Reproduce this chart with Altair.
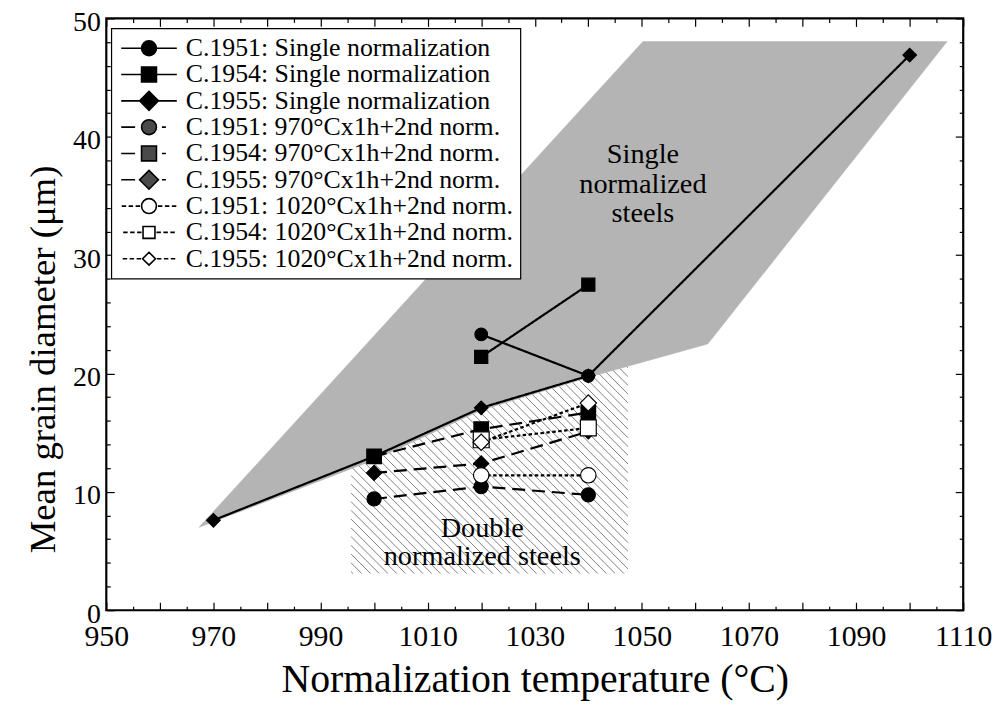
import altair as alt
import numpy as np
import pandas as pd

# ---------------- data ----------------
SERIES = [
    "C.1951: Single normalization",
    "C.1954: Single normalization",
    "C.1955: Single normalization",
    "C.1951: 970°Cx1h+2nd norm.",
    "C.1954: 970°Cx1h+2nd norm.",
    "C.1955: 970°Cx1h+2nd norm.",
    "C.1951: 1020°Cx1h+2nd norm.",
    "C.1954: 1020°Cx1h+2nd norm.",
    "C.1955: 1020°Cx1h+2nd norm.",
]

c1951_single_temp = [1020, 1040]
c1951_single_diam = [23.3, 19.8]
c1954_single_temp = [1020, 1040]
c1954_single_diam = [21.4, 27.5]
c1955_single_temp = [970, 1000, 1020, 1040, 1100]
c1955_single_diam = [7.6, 13.0, 17.1, 19.8, 46.9]
c1951_970_temp = [1000, 1020, 1040]
c1951_970_diam = [9.4, 10.45, 9.75]
c1954_970_temp = [1000, 1020, 1040]
c1954_970_diam = [13.0, 15.3, 16.7]
c1955_970_temp = [1000, 1020, 1040]
c1955_970_diam = [11.6, 12.4, 15.1]
c1951_1020_temp = [1020, 1040]
c1951_1020_diam = [11.4, 11.4]
c1954_1020_temp = [1020, 1040]
c1954_1020_diam = [14.4, 15.4]
c1955_1020_temp = [1020, 1040]
c1955_1020_diam = [14.2, 17.5]

# shaded band of single-normalized steels (polygon vertices)
single_band_temp = [967.3, 1000, 1020, 1041, 1062.3, 1107, 1050.2, 967.3]
single_band_diam = [7.0, 12.7, 16.9, 19.8, 22.5, 48.05, 48.05, 7.0]
# hatched box of double-normalized steels (x range, y range)
double_box_temp = [995.7, 1047.4]
double_box_diam = [3.1, 20.8]

X_LABELS = [950, 970, 990, 1010, 1030, 1050, 1070, 1090, 1110]
Y_LABELS = [0, 10, 20, 30, 40, 50]
X_MAJOR = list(range(950, 1111, 10))
X_MINOR = list(range(955, 1110, 10))
Y_MAJOR = list(range(0, 51, 10))
Y_MINOR = [v for v in range(0, 51, 2) if v % 10 != 0]

# ---------------- layout / style ----------------
W, H = 863, 596
XMIN, XMAX, YMIN, YMAX = 950, 1110, 0, 50
FONT = "Liberation Serif"

series_temps = [c1951_single_temp, c1954_single_temp, c1955_single_temp,
                c1951_970_temp, c1954_970_temp, c1955_970_temp,
                c1951_1020_temp, c1954_1020_temp, c1955_1020_temp]
series_diams = [c1951_single_diam, c1954_single_diam, c1955_single_diam,
                c1951_970_diam, c1954_970_diam, c1955_970_diam,
                c1951_1020_diam, c1954_1020_diam, c1955_1020_diam]

rows = []
for k, (name, ts, ds) in enumerate(zip(SERIES, series_temps, series_diams)):
    for t, d in zip(ts, ds):
        rows.append({"series": name, "temp": t, "diam": d, "z": k})
pts = pd.DataFrame(rows)

band = pd.DataFrame({"temp": single_band_temp, "diam": single_band_diam,
                     "i": list(range(len(single_band_temp)))})

# hatch texture for the double-normalized box (45 degree lines)
kx = W / (XMAX - XMIN)
ky = H / (YMAX - YMIN)
u0, u1 = (double_box_temp[0] - XMIN) * kx, (double_box_temp[1] - XMIN) * kx
v0, v1 = (double_box_diam[0] - YMIN) * ky, (double_box_diam[1] - YMIN) * ky
spacing = 8.8
hatch = []
for c in np.arange(u0 + v0 + 2, u1 + v1, spacing):
    lo = max(u0, c - v1)
    hi = min(u1, c - v0)
    if hi > lo:
        hatch.append({"x": XMIN + lo / kx, "y": (c - lo) / ky,
                      "x2": XMIN + hi / kx, "y2": (c - hi) / ky})
hatch = pd.DataFrame(hatch)

xs = alt.Scale(domain=[XMIN, XMAX], nice=False, zero=False)
ys = alt.Scale(domain=[YMIN, YMAX], nice=False, zero=False)

SHAPES = ["circle", "square", "diamond"] * 3
FILLS = ["black"] * 6 + ["white"] * 3
LEG_FILLS = ["black"] * 3 + ["#4a4a4a"] * 3 + ["white"] * 3
SIZES = [160, 270, 324, 230, 270, 290, 230, 160, 190]
DASHES = [[1, 0]] * 3 + [[13, 7]] * 3 + [[3.5, 2.5]] * 3

# legend symbols: line + marker drawn as one custom path
LEG_SYM = 484                      # symbol "size" -> scale factor sqrt/2 = 11 px / unit
SU = (LEG_SYM ** 0.5) / 2
HALF = 28.0                        # half width of the legend line, px


def segs(a, b, on=None, off=None):
    if on is None:
        return [(a, b)]
    out, p = [], a
    while p < b:
        out.append((p, min(p + on, b)))
        p += on + off
    return out


def seg_path(sg):
    return "".join(f"M{a / SU:.3f},0L{b / SU:.3f},0" for a, b in sg)


def marker(kind, r):
    r = r / SU
    if kind == "circle":
        return (f"M{-r:.3f},0A{r:.3f},{r:.3f},0,1,0,{r:.3f},0"
                f"A{r:.3f},{r:.3f},0,1,0,{-r:.3f},0Z")
    if kind == "square":
        return f"M{-r:.3f},{-r:.3f}L{r:.3f},{-r:.3f}L{r:.3f},{r:.3f}L{-r:.3f},{r:.3f}Z"
    return f"M{-r:.3f},0L0,{-r:.3f}L{r:.3f},0L0,{r:.3f}Z"


LEG_R = [7.5, 7.5, 9.5, 7.5, 7.5, 9.5, 7.5, 6.0, 6.5]
legend_paths = []
for k, (kind, r) in enumerate(zip(SHAPES, LEG_R)):
    if k < 3:
        lines = segs(-HALF, -r) + segs(r, HALF)
    elif k < 6:
        lines = segs(-HALF, -14) + segs(13, 17)
    else:
        right = segs(r + 1.5, HALF, 4.5, 2.5)
        lines = [(-b, -a) for a, b in right] + right
    legend_paths.append(seg_path(lines) + marker(kind, r))

leg = alt.Legend(title=None, orient="none", legendX=5, legendY=10,
                 symbolSize=LEG_SYM, symbolStrokeWidth=1.6,
                 symbolStrokeColor="black", symbolFillColor="white",
                 symbolOpacity=1, symbolOffset=18, labelFont=FONT,
                 labelFontSize=26, labelColor="black", labelOffset=24,
                 labelLimit=600, rowPadding=0.5, padding=7,
                 strokeColor="black", fillColor="white", cornerRadius=0,
                 zindex=1)

# ---------------- layers ----------------
hatch_layer = alt.Chart(hatch).mark_rule(color="#7f7f7f", strokeWidth=1.0).encode(
    x=alt.X("x:Q", scale=xs, axis=None), y=alt.Y("y:Q", scale=ys, axis=None),
    x2="x2:Q", y2="y2:Q")

band_layer = alt.Chart(band).mark_line(
    fill="#b4b4b4", stroke="#b4b4b4", strokeWidth=0.5, interpolate="linear"
).encode(x=alt.X("temp:Q", scale=xs, axis=None),
         y=alt.Y("diam:Q", scale=ys, axis=None),
         order=alt.Order("i:Q"))

# text anchored at its first line
single_text = alt.Chart(pd.DataFrame({"temp": [1050.2], "diam": [38.5]})).mark_text(
    text=["Single", "normalized", "steels"], font=FONT, fontSize=28.5, lineHeight=29.5,
    align="center", baseline="middle", color="black"
).encode(x=alt.X("temp:Q", scale=xs, axis=None), y=alt.Y("diam:Q", scale=ys, axis=None))

double_text = alt.Chart(pd.DataFrame({"temp": [1020.2], "diam": [6.9]})).mark_text(
    text=["Double", "normalized steels"], font=FONT, fontSize=28.5, lineHeight=28,
    align="center", baseline="middle", color="black"
).encode(x=alt.X("temp:Q", scale=xs, axis=None), y=alt.Y("diam:Q", scale=ys, axis=None))

line_layer = alt.Chart(pts).mark_line(color="black", strokeWidth=2.2).encode(
    x=alt.X("temp:Q", scale=xs, axis=None),
    y=alt.Y("diam:Q", scale=ys, axis=None),
    detail="series:N",
    strokeDash=alt.StrokeDash("series:N", scale=alt.Scale(domain=SERIES, range=DASHES),
                              legend=None))

point_layer = alt.Chart(pts).mark_point(opacity=1, stroke="black", strokeWidth=1.2).encode(
    x=alt.X("temp:Q", scale=xs, axis=None),
    y=alt.Y("diam:Q", scale=ys, axis=None),
    shape=alt.Shape("series:N", scale=alt.Scale(domain=SERIES, range=SHAPES), legend=None),
    fill=alt.Fill("series:N", scale=alt.Scale(domain=SERIES, range=FILLS), legend=None),
    size=alt.Size("series:N", scale=alt.Scale(domain=SERIES, range=SIZES), legend=None),
    order=alt.Order("z:Q"))

legend_layer = alt.Chart(pts).mark_point(opacity=0, stroke="black", strokeWidth=1.6).encode(
    x=alt.X("temp:Q", scale=xs, axis=None),
    y=alt.Y("diam:Q", scale=ys, axis=None),
    shape=alt.Shape("series:N", scale=alt.Scale(domain=SERIES, range=legend_paths), legend=leg),
    fill=alt.Fill("series:N", scale=alt.Scale(domain=SERIES, range=LEG_FILLS), legend=leg))


def tick_axis(orient, values, size, offset):
    return alt.Axis(orient=orient, values=values, tickSize=size, offset=offset,
                    labels=False, domain=False, grid=False, title=None,
                    ticks=True, tickColor="black", tickWidth=1.2)


def carrier(xaxis, yaxis):
    return alt.Chart(pts).mark_point(opacity=0).encode(
        x=alt.X("temp:Q", scale=xs, axis=xaxis),
        y=alt.Y("diam:Q", scale=ys, axis=yaxis))


main_axes = carrier(
    alt.Axis(orient="bottom", values=X_LABELS, format="d", ticks=False, tickSize=0,
             domain=False, grid=False, labelFontSize=30, labelPadding=12,
             labelFlush=False, labelOverlap=False,
             title="Normalization temperature (°C)", titleFontSize=40, titlePadding=8),
    alt.Axis(orient="left", values=Y_LABELS, format="d", ticks=False, tickSize=0,
             domain=False, grid=False, labelFontSize=28, labelPadding=6,
             labelOffset=4, labelFlush=False, labelOverlap=False,
             title="Mean grain diameter (μm)", titleFontSize=37, titlePadding=10,
             titleY=343))

ticks_a = carrier(tick_axis("top", X_MAJOR, 8, -H), tick_axis("right", Y_MAJOR, 8, -W))
ticks_b = carrier(tick_axis("top", X_MINOR, 4, -H), tick_axis("right", Y_MINOR, 4, -W))
ticks_c = carrier(tick_axis("bottom", X_MAJOR, 8, -H), tick_axis("left", Y_MAJOR, 8, -W))
ticks_d = carrier(tick_axis("bottom", X_MINOR, 4, -H), tick_axis("left", Y_MINOR, 4, -W))

chart = alt.layer(
    hatch_layer, band_layer, single_text, double_text, line_layer, point_layer,
    legend_layer, main_axes, ticks_a, ticks_b, ticks_c, ticks_d
).resolve_scale(
    shape="independent", fill="independent", size="independent"
).resolve_axis(
    x="independent", y="independent"
).properties(
    width=W, height=H,
    autosize=alt.AutoSizeParams(type="none"),
    padding={"left": 99, "top": 8, "right": 32, "bottom": 100},
    background="white",
).configure_axis(
    labelFont=FONT, titleFont=FONT, labelColor="black", titleColor="black",
    titleFontWeight="normal",
).configure_legend(
    strokeWidth=1.2,
).configure_view(
    stroke="black", strokeWidth=2.2,
)

chart.save("out.html", embed_options={"renderer": "svg", "actions": False})
